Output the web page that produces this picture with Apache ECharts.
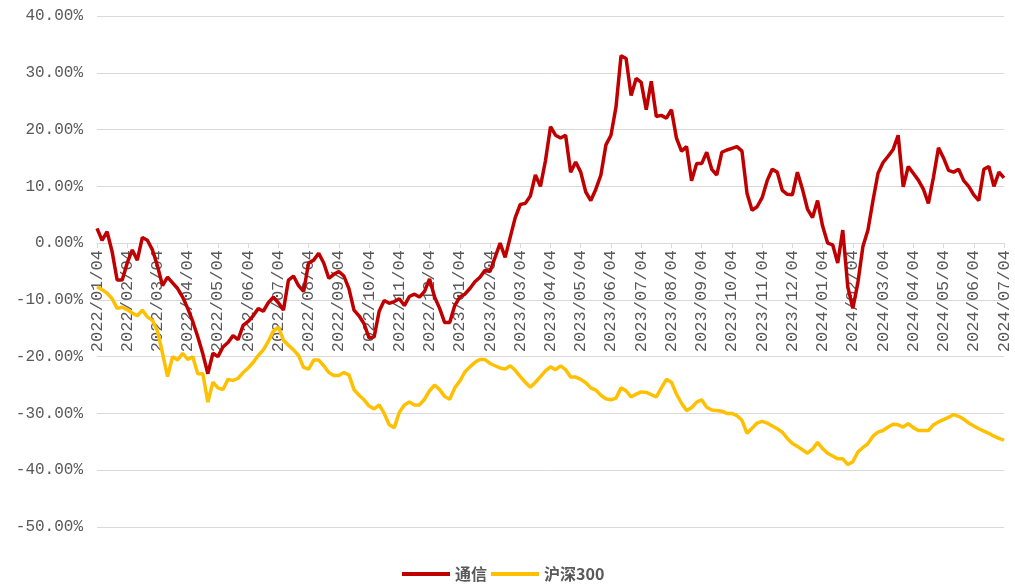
<!DOCTYPE html>
<html>
<head>
<meta charset="utf-8">
<script src="https://cdn.jsdelivr.net/npm/echarts@6/dist/echarts.min.js"></script>
<style>html,body{margin:0;padding:0;background:#fff;}#c{width:1015px;height:586px;}</style>
</head>
<body>
<div id="c"></div>
<script>
// Month tick labels (x axis)
const tickLabels = [
  '2022/01/04','2022/02/04','2022/03/04','2022/04/04','2022/05/04','2022/06/04',
  '2022/07/04','2022/08/04','2022/09/04','2022/10/04','2022/11/04','2022/12/04',
  '2023/01/04','2023/02/04','2023/03/04','2023/04/04','2023/05/04','2023/06/04',
  '2023/07/04','2023/08/04','2023/09/04','2023/10/04','2023/11/04','2023/12/04',
  '2024/01/04','2024/02/04','2024/03/04','2024/04/04','2024/05/04','2024/06/04',
  '2024/07/04'
];
const pointsPerMonth = 6;
const seriesNames = ['通信', '沪深300'];
const yMin = -50, yMax = 40, yStep = 10;

// 通信 cumulative return (%)
const tongxin = [
  2.6, 0.5, 2.0, -1.5, -6.5, -6.5,
  -3.5, -1.2, -3, 1, 0.5, -1.2,
  -4, -7.5, -6, -7, -8, -9.5,
  -11.5, -13.8, -16.5, -19.5, -23, -19.4,
  -20, -18.3, -17.5, -16.3, -17, -14.5,
  -13.8, -12.8, -11.5, -12, -10.5, -9.5,
  -10.5, -11.8, -6.5, -5.8, -7.5, -8.5,
  -3.5, -3, -1.8, -3.5, -6.2, -5.5,
  -5, -5.8, -8, -11.8, -12.8, -14.2,
  -16.7, -16.5, -12, -10.1, -10.6, -10.3,
  -9.8, -11, -9.4, -9, -9.5, -8.5,
  -6.3, -9.5, -11.5, -14, -14, -11,
  -9.5, -9, -8, -6.8, -6, -4.8,
  -5, -2.5, 0, -2.5, 1, 4.5,
  6.8, 7, 8.3, 12, 10, 14.5,
  20.5, 19, 18.5, 19, 12.5, 14.3,
  12.5, 9, 7.5, 9.5, 12, 17.3,
  19, 24, 33, 32.5, 26, 29,
  28.3, 23.5, 28.5, 22.3, 22.5, 22,
  23.5, 18.5, 16.2, 17, 11, 14,
  14, 16, 13, 12, 16, 16.4,
  16.7, 17, 16.2, 8.8, 5.8, 6.4,
  8, 11, 13, 12.5, 9.3, 8.6,
  8.5, 12.5, 9.5, 6, 4.5, 7.5,
  3, 0, -0.3, -3.5, 2.3, -7.7,
  -11.5, -7, -0.6, 2.3, 7.5, 12.3,
  14.2, 15.3, 16.5, 19, 9.9, 13.5,
  12.3, 11.1, 9.5, 7, 11.6, 16.8,
  15, 12.8, 12.5, 13, 11, 10,
  8.5, 7.5, 13, 13.5, 10, 12.5,
  11.5
];

// 沪深300 cumulative return (%)
const hs300 = [
  -7.7, -8.2, -8.8, -9.8, -11.5, -11.3,
  -11.7, -12.3, -12.8, -11.8, -13, -13.6,
  -15.5, -19.4, -23.5, -20, -20.6, -19.4,
  -20.5, -20, -23, -23, -28, -24.5,
  -25.5, -25.8, -24, -24.2, -23.8, -22.8,
  -22, -21, -19.8, -18.8, -17.3, -15.5,
  -14.8, -17.1, -18, -18.8, -19.8, -21.9,
  -22.2, -20.6, -20.6, -21.6, -22.8, -23.3,
  -23.3, -22.8, -23.2, -25.8, -26.8, -27.6,
  -28.7, -29.2, -28.5, -30, -32, -32.5,
  -29.8, -28.5, -28, -28.5, -28.5, -27.5,
  -26, -25, -25.8, -27, -27.5, -25.5,
  -24.3, -22.7, -21.8, -21, -20.5, -20.5,
  -21.2, -21.6, -22, -22.2, -21.6, -22.4,
  -23.5, -24.5, -25.4, -24.5, -23.5, -22.5,
  -21.8, -22.3, -21.6, -22.3, -23.6, -23.6,
  -24, -24.6, -25.5, -25.9, -26.8, -27.4,
  -27.6, -27.3, -25.5, -26, -27.1, -26.6,
  -26.2, -26.3, -26.7, -27.1, -25.5, -24,
  -24.5, -26.6, -28.2, -29.5, -29, -28,
  -27.6, -28.9, -29.4, -29.5, -29.6, -30,
  -30, -30.4, -31.2, -33.5, -32.6, -31.7,
  -31.4, -31.7, -32.2, -32.7, -33.3, -34.4,
  -35.3, -35.8, -36.4, -37, -36.3, -35.1,
  -36.2, -37, -37.5, -38, -38, -39,
  -38.5, -36.8, -36, -35.3, -34, -33.3,
  -33, -32.4, -31.9, -32, -32.4, -31.8,
  -32.5, -33, -33, -33, -32, -31.5,
  -31.1, -30.7, -30.2, -30.5, -31, -31.7,
  -32.2, -32.7, -33.1, -33.5, -34, -34.4,
  -34.7
];

// Build category list: one tick label per month, sub-points in between
const categories = [];
tickLabels.forEach((lab, m) => {
  const n = (m === tickLabels.length - 1) ? 1 : pointsPerMonth;
  for (let k = 0; k < n; k++) categories.push(k === 0 ? lab : lab + '#' + k);
});

const gridTop = 16, gridBottom = 59, H = 586;
const plotH = H - gridTop - gridBottom;
// place x axis on the zero line (offset upward from the bottom edge of the grid)
const zeroOffset = -plotH * (0 - yMin) / (yMax - yMin);

const chart = echarts.init(document.getElementById('c'), null, {renderer: 'canvas'});
const labelFont = '"Liberation Mono", "DejaVu Sans Mono", monospace';
chart.setOption({
  backgroundColor: '#ffffff',
  animation: false,
  color: ['#C00000', '#FFC000'],
  grid: {left: 97, right: 11, top: gridTop, bottom: gridBottom, containLabel: false, outerBoundsMode: 'none'},
  legend: {
    data: seriesNames,
    top: 561,
    left: 397,
    icon: 'rect',
    itemWidth: 48,
    itemHeight: 4,
    itemGap: 4,
    textStyle: {
      color: '#595959',
      fontSize: 16,
      fontWeight: 'bold',
      fontFamily: '"Noto Sans CJK SC", sans-serif'
    }
  },
  xAxis: {
    type: 'category',
    data: categories,
    boundaryGap: false,
    position: 'bottom',
    offset: zeroOffset,
    z: 0,
    axisLine: {onZero: false, lineStyle: {color: '#d9d9d9', width: 1}},
    axisTick: {
      show: true,
      interval: pointsPerMonth - 1,
      length: 5,
      lineStyle: {color: '#d9d9d9'}
    },
    axisLabel: {
      interval: pointsPerMonth - 1,
      rotate: 90,
      margin: 7,
      color: '#595959',
      fontSize: 17,
      fontFamily: labelFont,
      formatter: v => v.split('#')[0]
    },
    splitLine: {show: false}
  },
  yAxis: {
    type: 'value',
    min: yMin,
    max: yMax,
    interval: yStep,
    axisLine: {show: false},
    axisTick: {show: false},
    axisLabel: {
      color: '#595959',
      fontSize: 16,
      fontFamily: labelFont,
      margin: 14,
      formatter: v => v.toFixed(2) + '%'
    },
    splitLine: {lineStyle: {color: '#d9d9d9', width: 1}}
  },
  series: [
    {
      name: seriesNames[0],
      type: 'line',
      data: tongxin,
      symbol: 'none',
      lineStyle: {width: 3.5, color: '#C00000'},
      z: 5
    },
    {
      name: seriesNames[1],
      type: 'line',
      data: hs300,
      symbol: 'none',
      lineStyle: {width: 3.5, color: '#FFC000'},
      z: 6
    }
  ]
});
</script>
</body>
</html>
